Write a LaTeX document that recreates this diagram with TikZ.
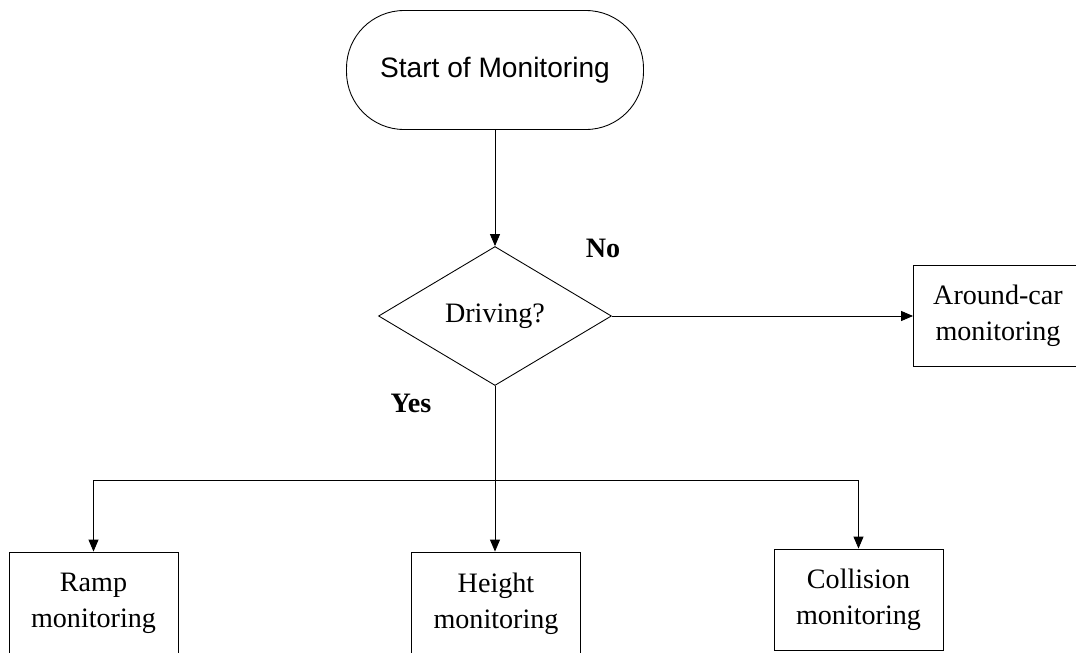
\documentclass[tikz,border=0pt]{standalone}
\usepackage{fontspec}
\setmainfont{Liberation Serif}
\setsansfont{Liberation Sans}
\usetikzlibrary{shapes.geometric,arrows.meta}
\begin{document}
\begin{tikzpicture}[x=0.02cm,y=-0.02cm,
      txt/.style={font=\fontsize{16}{20.5}\selectfont},
      term/.style={draw,rounded corners=1.15cm,minimum width=5.94cm,minimum height=2.38cm,font=\sffamily\fontsize{16}{19}\selectfont},
      decision/.style={draw,diamond,aspect=1.67,inner sep=0pt,minimum width=4.66cm,minimum height=2.78cm,txt},
      box/.style={draw,align=center,minimum width=3.38cm,minimum height=2.02cm,inner sep=0pt,txt},
      lbl/.style={font=\bfseries\fontsize{16}{19}\selectfont},
      arr/.style={-{Triangle[length=0.24cm,width=0.2cm]}},
      line width=0.5pt]
      \useasboundingbox (0,0) rectangle (1076,653);
      \clip (0,0) rectangle (1076,653);
      \node[term] (start) at (495,70) {Start of Monitoring};
      \node[decision] (drive) at (495,316) {Driving?};
      \node[box] (around) at (998,316) {Around-car\\monitoring};
      \node[box,minimum height=2.06cm] (ramp) at (93.5,603.5) {Ramp\\monitoring};
      \node[box,minimum height=2.06cm] (height) at (496,603.5) {Height\\monitoring};
      \node[box] (coll) at (858.5,599.5) {Collision\\monitoring};
      \node[lbl] (no) at (603,248) {No};
      \node[lbl] (yes) at (411,403) {Yes};
      \coordinate (split) at (495,480);
      \draw[arr] (start) -- (drive);
      \draw[arr] (drive) -- (around);
      \draw[arr] (drive.south) -- (drive.south |- height.north);
      \draw[arr] (split) -| (ramp.north);
      \draw[arr] (split) -| (coll.north);
   \end{tikzpicture}
\end{document}
